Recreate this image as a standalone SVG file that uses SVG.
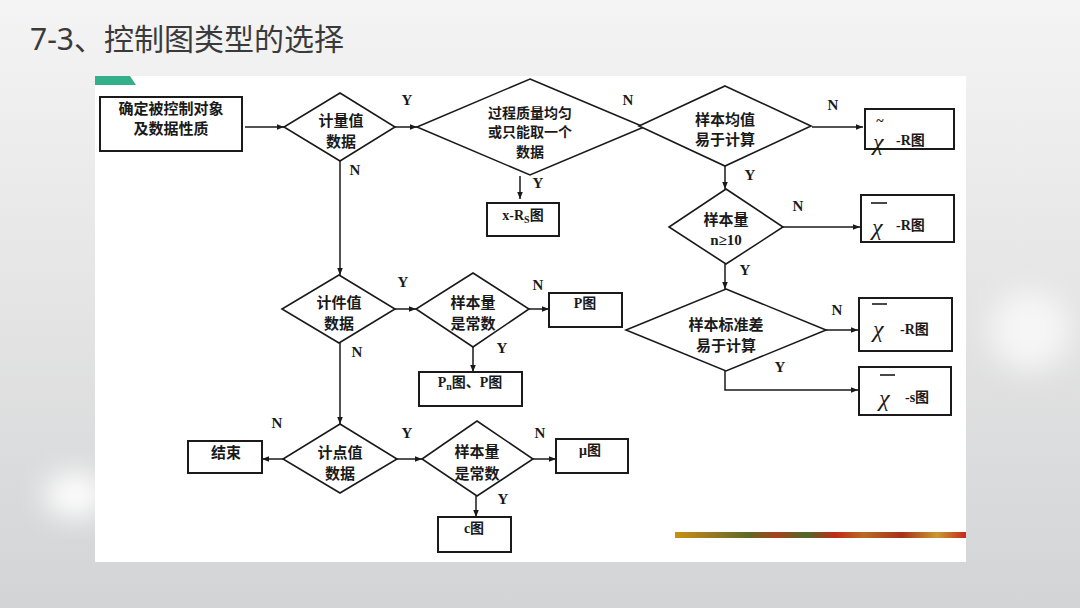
<svg xmlns="http://www.w3.org/2000/svg" width="1080" height="608" viewBox="0 0 1080 608">
<defs>
<linearGradient id="bg" x1="0" y1="0" x2="0" y2="1">
<stop offset="0" stop-color="#f4f4f4"/>
<stop offset="0.45" stop-color="#e6e6e6"/>
<stop offset="1" stop-color="#d3d4d6"/>
</linearGradient>
<linearGradient id="stripe" x1="0" y1="0" x2="1" y2="0">
<stop offset="0" stop-color="#c8900e"/>
<stop offset="0.12" stop-color="#9a7a22"/>
<stop offset="0.25" stop-color="#5f6a25"/>
<stop offset="0.35" stop-color="#a8401c"/>
<stop offset="0.45" stop-color="#4c6a2a"/>
<stop offset="0.55" stop-color="#c02a18"/>
<stop offset="0.65" stop-color="#b86a22"/>
<stop offset="0.78" stop-color="#a8301a"/>
<stop offset="0.9" stop-color="#c89a30"/>
<stop offset="1" stop-color="#c8281a"/>
</linearGradient>
<filter id="blur" x="-50%" y="-50%" width="200%" height="200%"><feGaussianBlur stdDeviation="14"/></filter>
<marker id="ah" viewBox="0 0 10 10" refX="10" refY="5" markerWidth="7" markerHeight="7" orient="auto" markerUnits="userSpaceOnUse">
<path d="M0,1 L10,5 L0,9 z" fill="#1a1a1a"/>
</marker>
<style>
.title{font-family:"Noto Sans","Noto Sans CJK SC",sans-serif;font-size:30px;fill:#3a3a3a}
.box{fill:#fff;stroke:#1a1a1a;stroke-width:2}
.dia{fill:#fff;stroke:#1a1a1a;stroke-width:1.6}
.t{font-family:"Noto Sans CJK SC",sans-serif;font-size:15px;font-weight:bold;fill:#1a1a1a;text-anchor:middle;dominant-baseline:central}
.ts{font-size:14px}
.lbl{font-family:"Liberation Serif","Noto Sans CJK SC",serif;font-size:15px;font-weight:bold;fill:#1a1a1a;text-anchor:middle;dominant-baseline:central}
.m{font-family:"Liberation Serif","Noto Sans CJK SC",serif;font-size:14px;font-weight:bold;fill:#1a1a1a;dominant-baseline:central}
.chi{font-family:"Liberation Serif",serif;font-size:24px;font-style:italic;fill:#1a1a1a;dominant-baseline:central}
.bar{stroke:#1a1a1a;stroke-width:1.6}
.c{stroke:#1a1a1a;stroke-width:1.5;fill:none;marker-end:url(#ah)}
</style>
</defs>

<rect width="1080" height="608" fill="url(#bg)"/>
<ellipse cx="75" cy="495" rx="30" ry="22" fill="#ffffff" filter="url(#blur)"/>
<ellipse cx="1030" cy="330" rx="40" ry="40" fill="#f6f6f6" filter="url(#blur)"/>

<text class="title" x="30" y="50">7-3、控制图类型的选择</text>

<rect x="95" y="76" width="871" height="486" fill="#ffffff"/>
<path d="M95,76 L130,76 L136,85 L95,85 z" fill="#33b08a"/>
<rect x="675" y="532" width="291" height="6" fill="url(#stripe)"/>

<g id="connectors">
<line class="c" x1="245" y1="127" x2="284" y2="127"/>
<line class="c" x1="395" y1="127" x2="417" y2="127"/>
<line class="c" x1="620" y1="127" x2="639" y2="127"/>
<line class="c" x1="520" y1="176" x2="520" y2="199"/>
<line class="c" x1="812" y1="127" x2="863" y2="127"/>
<line class="c" x1="725" y1="166" x2="725" y2="189"/>
<line class="c" x1="783" y1="227" x2="860" y2="227"/>
<line class="c" x1="725" y1="264" x2="725" y2="289"/>
<line class="c" x1="826" y1="330" x2="858" y2="330"/>
<polyline class="c" points="725,371 725,390 858,390"/>
<line class="c" x1="340" y1="161" x2="340" y2="275"/>
<line class="c" x1="395" y1="309" x2="416" y2="309"/>
<line class="c" x1="529" y1="309" x2="549" y2="309"/>
<line class="c" x1="473" y1="347" x2="473" y2="372"/>
<line class="c" x1="340" y1="343" x2="340" y2="424"/>
<line class="c" x1="283" y1="459" x2="262" y2="459"/>
<line class="c" x1="397" y1="459" x2="422" y2="459"/>
<line class="c" x1="533" y1="459" x2="556" y2="459"/>
<line class="c" x1="476" y1="496" x2="476" y2="517"/>
<text class="lbl" x="407" y="100">Y</text>
<text class="lbl" x="355" y="170">N</text>
<text class="lbl" x="628" y="100">N</text>
<text class="lbl" x="538" y="183">Y</text>
<text class="lbl" x="833" y="105">N</text>
<text class="lbl" x="750" y="175">Y</text>
<text class="lbl" x="798" y="206">N</text>
<text class="lbl" x="745" y="270">Y</text>
<text class="lbl" x="837" y="310">N</text>
<text class="lbl" x="780" y="367">Y</text>
<text class="lbl" x="403" y="282">Y</text>
<text class="lbl" x="538" y="285">N</text>
<text class="lbl" x="357" y="352">N</text>
<text class="lbl" x="502" y="348">Y</text>
<text class="lbl" x="277" y="423">N</text>
<text class="lbl" x="407" y="433">Y</text>
<text class="lbl" x="540" y="433">N</text>
<text class="lbl" x="503" y="499">Y</text>
</g>

<g id="start">
<rect class="box" x="100" y="97" width="142" height="54"/>
<text class="t" x="171" y="107" font-size="15.5">确定被控制对象</text>
<text class="t" x="171" y="127" font-size="15.5">及数据性质</text>
</g>

<g id="d-measure">
<polygon class="dia" points="340,93 395,127 340,161 284,127"/>
<text class="t" x="341" y="119">计量值</text>
<text class="t" x="341" y="140">数据</text>
</g>

<g id="d-uniform">
<polygon class="dia" points="530,79 644,127 530,175 417,127"/>
<text class="t ts" x="530" y="112">过程质量均匀</text>
<text class="t ts" x="530" y="131">或只能取一个</text>
<text class="t ts" x="530" y="151">数据</text>
</g>

<g id="b-xrs">
<rect class="box" x="487" y="203" width="72" height="33"/>
<text class="m" x="523" y="215" text-anchor="middle">x-R<tspan font-size="10" dy="4">S</tspan><tspan dy="-4">图</tspan></text>
</g>

<g id="d-mean">
<polygon class="dia" points="725,86 811,126 725,166 639,126"/>
<text class="t" x="725" y="118">样本均值</text>
<text class="t" x="725" y="138">易于计算</text>
</g>

<g id="b-median">
<rect class="box" x="865" y="109" width="89" height="40"/>
<text class="chi" x="873" y="142">χ</text>
<text class="m" x="880" y="121" font-size="18" text-anchor="middle">~</text>
<text class="m" x="896" y="140">-R图</text>
</g>

<g id="d-n10">
<polygon class="dia" points="726,189 783,227 726,264 669,227"/>
<text class="t" x="726" y="218">样本量</text>
<text class="lbl" x="726" y="240">n≥10</text>
</g>

<g id="b-xbar-r1">
<rect class="box" x="861" y="195" width="93" height="47"/>
<line class="bar" x1="871" y1="203" x2="887" y2="203"/>
<text class="chi" x="872" y="227">χ</text>
<text class="m" x="896" y="225">-R图</text>
</g>

<g id="d-std">
<polygon class="dia" points="726,289 826,330 726,371 626,330"/>
<text class="t" x="726" y="323">样本标准差</text>
<text class="t" x="726" y="344">易于计算</text>
</g>

<g id="b-xbar-r2">
<rect class="box" x="859" y="298" width="93" height="53"/>
<line class="bar" x1="872" y1="304" x2="887" y2="304"/>
<text class="chi" x="873" y="329">χ</text>
<text class="m" x="900" y="329">-R图</text>
</g>

<g id="b-xbar-s">
<rect class="box" x="859" y="367" width="92" height="48"/>
<line class="bar" x1="880" y1="375" x2="895" y2="375"/>
<text class="chi" x="879" y="398">χ</text>
<text class="m" x="905" y="397">-s图</text>
</g>

<g id="d-count">
<polygon class="dia" points="339,275 395,309 339,343 282,309"/>
<text class="t" x="339" y="301">计件值</text>
<text class="t" x="339" y="322">数据</text>
</g>

<g id="d-const1">
<polygon class="dia" points="473,273 529,309 473,347 416,309"/>
<text class="t" x="473" y="301">样本量</text>
<text class="t" x="473" y="322">是常数</text>
</g>

<g id="b-p">
<rect class="box" x="549" y="293" width="73" height="34"/>
<text class="m" x="585" y="303" text-anchor="middle">P图</text>
</g>

<g id="b-pn">
<rect class="box" x="419" y="372" width="103" height="34"/>
<text class="m" x="470" y="382" text-anchor="middle">P<tspan font-size="10" dy="4">n</tspan><tspan dy="-4">图、P图</tspan></text>
</g>

<g id="d-defect">
<polygon class="dia" points="340,424 397,459 340,493 283,459"/>
<text class="t" x="340" y="451">计点值</text>
<text class="t" x="340" y="472">数据</text>
</g>

<g id="b-end">
<rect class="box" x="188" y="441" width="74" height="32"/>
<text class="t" x="226" y="451">结束</text>
</g>

<g id="d-const2">
<polygon class="dia" points="477,421 533,459 477,496 422,459"/>
<text class="t" x="477" y="450">样本量</text>
<text class="t" x="477" y="472">是常数</text>
</g>

<g id="b-u">
<rect class="box" x="556" y="439" width="72" height="34"/>
<text class="m" x="590" y="450" text-anchor="middle">μ图</text>
</g>

<g id="b-c">
<rect class="box" x="438" y="517" width="73" height="35"/>
<text class="m" x="474" y="528" text-anchor="middle">c图</text>
</g>
</svg>
